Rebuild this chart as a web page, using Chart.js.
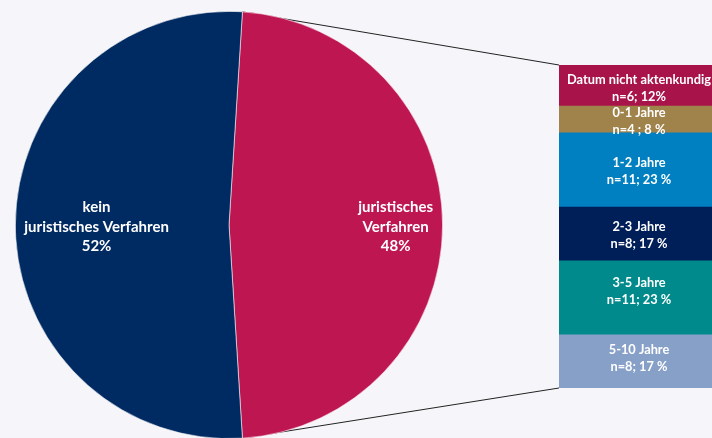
<!DOCTYPE html>
<html>
<head>
<meta charset="utf-8">
<script src="https://cdn.jsdelivr.net/npm/chart.js@4/dist/chart.umd.min.js"></script>
<style>
  html, body { margin:0; padding:0; width:712px; height:438px; overflow:hidden; background:#F6F6FA; }
  #pieWrap { position:absolute; left:0; top:0; width:712px; height:440px; }
  #barWrap { position:absolute; left:559px; top:65px; width:160px; height:323px; }
</style>
</head>
<body>
<div id="pieWrap"><canvas id="pie"></canvas></div>
<div id="barWrap"><canvas id="bar"></canvas></div>
<script>
// ---- data ----
const pieLabels = [["juristisches", "Verfahren", "48%"], ["kein", "juristisches Verfahren", "52%"]];
const pieValues = [48, 52];

const barCategories = ["Datum nicht aktenkundig", "0-1 Jahre", "1-2 Jahre", "2-3 Jahre", "3-5 Jahre", "5-10 Jahre"];
const barCounts = [6, 4, 11, 8, 11, 8];
const barValueLabels = ["n=6; 12%", "n=4 ; 8 %", "n=11; 23 %", "n=8; 17 %", "n=11; 23 %", "n=8; 17 %"];

// ---- styles ----
const pieColors = ["#BE1650", "#002A62"];
const pieLabelRadius = [0.78, 0.62];
const barColors = ["#A8134A", "#A0834B", "#0080C0", "#001E58", "#008A8C", "#87A0C8"];
const barLabelShift = [3.5, 3, 2, 2, -6, -2.5];
const FONT = "Lato, 'Open Sans', sans-serif";

// ---- stacked bar ----
const barTotal = barCounts.reduce((a, b) => a + b, 0);
const barLabelPlugin = {
  id: 'barLabels',
  afterDatasetsDraw(chart) {
    const ctx = chart.ctx;
    ctx.save();
    ctx.fillStyle = '#FFFFFF';
    ctx.textAlign = 'center';
    ctx.textBaseline = 'middle';
    chart.data.datasets.forEach((ds, i) => {
      const el = chart.getDatasetMeta(i).data[0];
      const cy = (el.y + el.base) / 2 + barLabelShift[i];
      ctx.font = 'bold 12.8px ' + FONT;
      ctx.fillText(barCategories[i], el.x, cy - 8.5);
      ctx.fillText(barValueLabels[i], el.x, cy + 8.5);
    });
    ctx.restore();
  }
};

const barChart = new Chart(document.getElementById('bar'), {
  type: 'bar',
  data: {
    labels: [''],
    datasets: barCategories.map((c, i) => ({
      label: c,
      data: [barCounts[i]],
      backgroundColor: barColors[i],
      borderWidth: 0,
      barPercentage: 1,
      categoryPercentage: 1
    }))
  },
  options: {
    responsive: true,
    maintainAspectRatio: false,
    animation: false,
    layout: { padding: 0 },
    plugins: { legend: { display: false }, tooltip: { enabled: false } },
    scales: {
      x: { stacked: true, display: false },
      y: { stacked: true, display: false, reverse: true, min: 0, max: barTotal }
    }
  },
  plugins: [barLabelPlugin]
});

// ---- pie with connectors ----
const connectorPlugin = {
  id: 'connectors',
  beforeDatasetsDraw(chart) {
    const arc = chart.getDatasetMeta(0).data[0];
    const bmeta0 = barChart.getDatasetMeta(0).data[0];
    const bmetaN = barChart.getDatasetMeta(barCategories.length - 1).data[0];
    const barCanvas = barChart.canvas.getBoundingClientRect();
    const pieCanvas = chart.canvas.getBoundingClientRect();
    const dx = barCanvas.left - pieCanvas.left, dy = barCanvas.top - pieCanvas.top;
    const leftX = bmeta0.x - bmeta0.width / 2 + dx;
    const topY = Math.min(bmeta0.y, bmeta0.base) + dy;
    const botY = Math.max(bmetaN.y, bmetaN.base) + dy;
    const r = arc.outerRadius;
    const p1 = [arc.x + r * Math.cos(arc.startAngle), arc.y + r * Math.sin(arc.startAngle)];
    const p2 = [arc.x + r * Math.cos(arc.endAngle), arc.y + r * Math.sin(arc.endAngle)];
    const ctx = chart.ctx;
    ctx.save();
    ctx.strokeStyle = '#222222';
    ctx.lineWidth = 1;
    ctx.beginPath();
    ctx.moveTo(p1[0], p1[1]); ctx.lineTo(leftX, topY);
    ctx.moveTo(p2[0], p2[1]); ctx.lineTo(leftX, botY);
    ctx.stroke();
    ctx.restore();
  },
  afterDatasetsDraw(chart) {
    const ctx = chart.ctx;
    ctx.save();
    ctx.fillStyle = '#FFFFFF';
    ctx.textAlign = 'center';
    ctx.textBaseline = 'middle';
    ctx.font = 'bold 15px ' + FONT;
    chart.getDatasetMeta(0).data.forEach((arc, i) => {
      const mid = (arc.startAngle + arc.endAngle) / 2;
      const rr = arc.outerRadius * pieLabelRadius[i];
      const x = arc.x + rr * Math.cos(mid);
      const y = arc.y + rr * Math.sin(mid) + 2;
      const lines = pieLabels[i];
      lines.forEach((t, k) => {
        ctx.fillText(t, x, y + (k - (lines.length - 1) / 2) * 19.5);
      });
    });
    ctx.restore();
  }
};

new Chart(document.getElementById('pie'), {
  type: 'pie',
  data: {
    labels: pieLabels.map(l => l.join(' ')),
    datasets: [{
      data: pieValues,
      backgroundColor: pieColors,
      borderColor: 'rgba(255,255,255,0.7)',
      borderWidth: 0.8,
      hoverOffset: 0
    }]
  },
  options: {
    responsive: true,
    maintainAspectRatio: false,
    animation: false,
    rotation: 3.6,
    layout: { padding: { left: 15, right: 269, top: 11, bottom: 1 } },
    plugins: { legend: { display: false }, tooltip: { enabled: false } }
  },
  plugins: [connectorPlugin]
});
</script>
</body>
</html>
